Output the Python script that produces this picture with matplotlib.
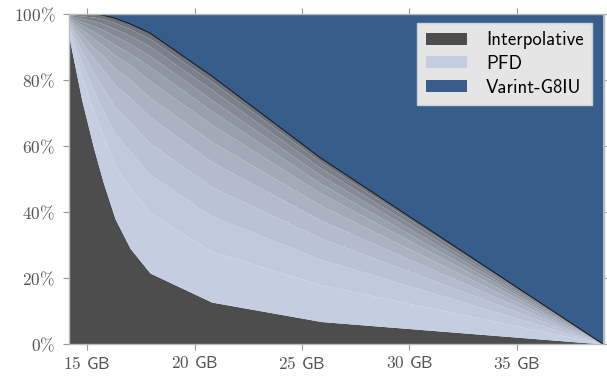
import numpy as np
import matplotlib
matplotlib.use("Agg")
import matplotlib.pyplot as plt
from matplotlib.patches import Patch

plt.rcParams['mathtext.fontset'] = 'cm'
plt.rcParams['font.family'] = ['cmss10', 'DejaVu Sans']
plt.rcParams['axes.unicode_minus'] = False

# DATOS
x_gb = [14.16, 14.75, 15.3, 15.75, 16.3, 17.0, 17.93, 20.8, 25.9, 39.0]

# limite superior de Interpolative
interpolative = [93.0, 74.0, 59.5, 49.0, 38.0, 29.0, 21.5, 12.7, 6.8, 0.0]

# bandas intermedias (de PFD hacia arriba)
banda_1 = [94.9, 81.2, 70.3, 63.0, 53.8, 47.4, 39.7, 28.1, 17.9, 0.0]
banda_2 = [96.0, 85.3, 76.8, 71.0, 63.7, 58.3, 51.3, 38.7, 25.6, 0.0]
banda_3 = [97.0, 88.7, 82.2, 77.6, 71.7, 67.2, 60.8, 47.6, 32.0, 0.0]
banda_4 = [97.7, 91.5, 86.6, 83.1, 78.5, 74.7, 68.8, 55.2, 37.4, 0.0]
banda_5 = [98.3, 93.6, 89.9, 87.2, 83.4, 80.1, 74.6, 61.3, 41.9, 0.0]
banda_6 = [98.7, 95.3, 92.6, 90.4, 87.5, 84.6, 79.7, 66.5, 45.6, 0.0]
banda_7 = [99.1, 96.6, 94.7, 93.0, 90.6, 88.1, 84.0, 70.6, 48.5, 0.0]
banda_8 = [99.4, 97.7, 96.4, 95.2, 93.3, 91.0, 87.3, 74.0, 51.0, 0.0]
banda_9 = [99.6, 98.7, 97.9, 97.0, 95.5, 93.5, 90.2, 77.1, 53.2, 0.0]
banda_10 = [99.8, 99.4, 99.1, 98.5, 97.3, 95.5, 92.5, 79.5, 55.0, 0.0]

# limite inferior de Varint-G8IU
varint = [100.0, 100.0, 100.0, 99.6, 98.7, 97.0, 94.2, 81.2, 56.2, 0.0]

x_ticks = [15, 20, 25, 30, 35]
y_ticks = [0, 20, 40, 60, 80, 100]

# COLORES
C_INTERP = '#4d4d4d'
C_PFD = '#c5cee1'
C_TOP_GRIS = '#6f747c'
C_VARINT = '#375d8c'

fig = plt.figure(figsize=(6.07, 3.82), dpi=100)
ax = fig.add_axes([0.1137, 0.0995, 0.8813, 0.8639])

x = np.array(x_gb)
bandas = [interpolative, banda_1, banda_2, banda_3, banda_4, banda_5,
          banda_6, banda_7, banda_8, banda_9, banda_10, varint]

# Interpolative
ax.fill_between(x, 0, interpolative, color=C_INTERP, lw=0)

# PFD y bandas que se oscurecen hacia arriba
c0 = np.array(matplotlib.colors.to_rgb(C_PFD))
c1 = np.array(matplotlib.colors.to_rgb(C_TOP_GRIS))
n = len(bandas) - 1
for i in range(n):
    t = (i / (n - 1)) ** 1.3
    col = c0 * (1 - t) + c1 * t
    ax.fill_between(x, bandas[i], bandas[i + 1], color=col, lw=0)

# Varint-G8IU
ax.fill_between(x, varint, 100, color=C_VARINT, lw=0)
ax.plot(x, varint, color='#1a1a1a', lw=0.8)

ax.set_xlim(14.16, 39.05)
ax.set_ylim(0, 100)

ax.set_xticks(x_ticks)
ax.set_xticklabels([f'${v}$ GB' for v in x_ticks])
ax.set_yticks(y_ticks)
ax.set_yticklabels([f'${v}\\%$' for v in y_ticks])

ax.tick_params(axis='both', direction='out', length=4, width=0.8,
               color='#999999', labelcolor='#555555', labelsize=12.5,
               top=True, right=True)
ax.tick_params(axis='x', pad=4)
ax.tick_params(axis='y', pad=6)

for s in ax.spines.values():
    s.set_color('#bbbbbb')
    s.set_linewidth(1.0)

handles = [Patch(facecolor=C_INTERP, label='Interpolative'),
           Patch(facecolor=C_PFD, label='PFD'),
           Patch(facecolor=C_VARINT, label='Varint-G8IU')]
leg = ax.legend(handles=handles, loc='upper right', fontsize=13.5,
                frameon=True, fancybox=False, handlelength=2.2,
                handleheight=0.6, handletextpad=1.0, borderpad=0.45,
                labelspacing=0.3, borderaxespad=0.3,
                bbox_to_anchor=(0.988, 0.99))
leg.get_frame().set_facecolor('#e5e5e5')
leg.get_frame().set_edgecolor('#d0d0d0')
leg.get_frame().set_alpha(1)

fig.savefig('out.png', dpi=100)
